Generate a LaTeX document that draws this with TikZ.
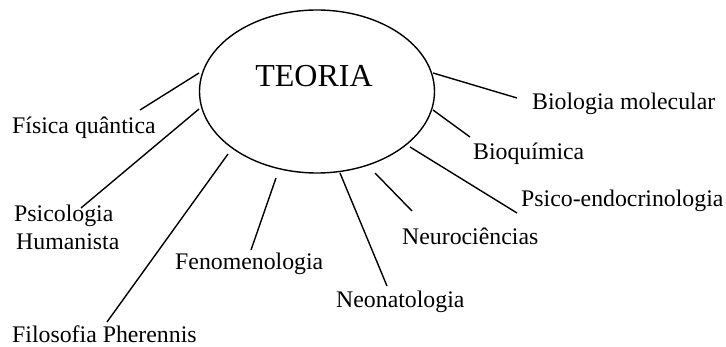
\documentclass[tikz,border=0pt]{standalone}
\usepackage{fontspec}
\setmainfont{Liberation Serif}
\usetikzlibrary{shapes.geometric}
\begin{document}
\begin{tikzpicture}[x=1pt,y=-1pt,
  lbl/.style={inner sep=0pt,anchor=base west,font=\fontsize{23.8}{27}\selectfont},
  conn/.style={line width=1.4pt,line cap=butt}]
\useasboundingbox (0,0) rectangle (726,347);
\node[ellipse,draw,line width=1.4pt,minimum width=235pt,minimum height=163pt,inner sep=0pt] (teo) at (317,91.5) {};
\node[inner sep=0pt,anchor=base,font=\fontsize{32}{36}\selectfont] (tt) at (314,87) {TEORIA};
% labels
\node[lbl] (fq) at (12,134) {Física quântica};
\node[lbl] (ps) at (14,222) {Psicologia};
\node[lbl] (hu) at (16,250) {Humanista};
\node[lbl] (fp) at (12,343) {Filosofia Pherennis};
\node[lbl] (fe) at (175,270) {Fenomenologia};
\node[lbl] (ne) at (336,308) {Neonatologia};
\node[lbl] (nc) at (402,245) {Neurociências};
\node[lbl] (pe) at (521,207) {Psico-endocrinologia};
\node[lbl] (bq) at (473,160) {Bioquímica};
\node[lbl] (bm) at (532,110) {Biologia molecular};
% connector ends
\coordinate (fq1) at (199,73);  \coordinate (fq2) at (140,110);
\coordinate (ps1) at (199,109); \coordinate (ps2) at (81,208);
\coordinate (fp1) at (228,154); \coordinate (fp2) at (107,322);
\coordinate (fe1) at (276,178); \coordinate (fe2) at (251,250);
\coordinate (ne1) at (340,173); \coordinate (ne2) at (387,286);
\coordinate (nc1) at (375,173); \coordinate (nc2) at (412,211);
\coordinate (pe1) at (410,147); \coordinate (pe2) at (517,213);
\coordinate (bq1) at (433,110); \coordinate (bq2) at (470,137);
\coordinate (bm1) at (433,73);  \coordinate (bm2) at (517,98);
\foreach \n in {fq,ps,fp,fe,ne,nc,pe,bq,bm}
  \draw[conn] (\n1) -- (\n2);
\end{tikzpicture}
\end{document}
